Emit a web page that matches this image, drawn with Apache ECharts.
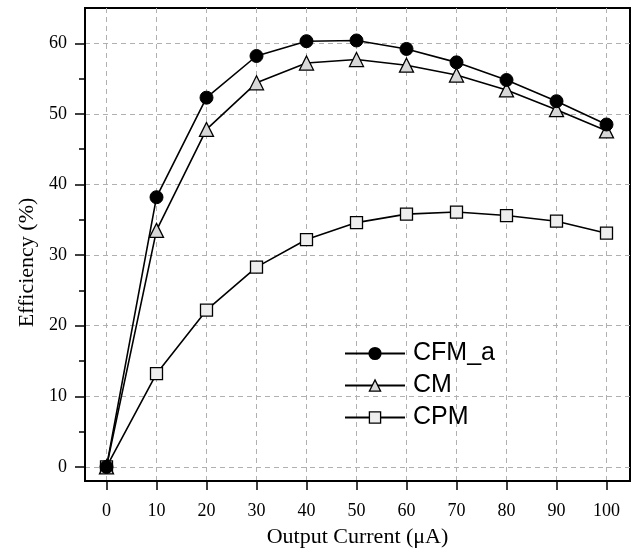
<!DOCTYPE html>
<html><head><meta charset="utf-8">
<script src="https://cdn.jsdelivr.net/npm/echarts@6/dist/echarts.min.js"></script>
<style>html,body{margin:0;padding:0;background:#fff}#c{width:634px;height:553px}</style>
</head><body><div id="c"></div>
<script>
const xValues = [0,10,20,30,40,50,60,70,80,90,100];
const cfmA = [0,38.2,52.3,58.2,60.3,60.4,59.2,57.3,54.8,51.8,48.5];
const cm   = [0,33.5,47.8,54.4,57.2,57.7,56.9,55.5,53.4,50.6,47.6];
const cpm  = [0,13.2,22.2,28.3,32.2,34.6,35.8,36.1,35.6,34.8,33.1];
const xTicks = [0,10,20,30,40,50,60,70,80,90,100];
const yTicks = [0,10,20,30,40,50,60];
const yMinorTicks = [5,15,25,35,45,55];

const serif = '"Liberation Serif","Times New Roman",serif';
const pair = a => xValues.map((x,i)=>[x,a[i]]);
const chart = echarts.init(document.getElementById('c'), null, {renderer:'canvas'});
chart.setOption({
  animation:false,
  backgroundColor:'#fff',
  grid:{left:85,top:8,right:4,bottom:69,show:true,borderColor:'#000',borderWidth:2,backgroundColor:'transparent'},
  legend:{
    orient:'vertical', left:339, top:336, itemWidth:60, itemHeight:14, itemGap:7,
    textStyle:{fontFamily:'"Liberation Sans",Arial,sans-serif',fontSize:25,color:'#000',padding:[0,0,0,3]},
    data:[
      {name:'CFM_a',itemStyle:{color:'#000'}},
      {name:'CM',itemStyle:{color:'#d8d8d8',borderColor:'#000',borderWidth:1.3}},
      {name:'CPM',itemStyle:{color:'#eeeeee',borderColor:'#000',borderWidth:1.3}}
    ]
  },
  xAxis:[{
    type:'value', min:-4.3, max:104.7,
    name:'Output Current (\u03bcA)', nameLocation:'middle', nameGap:45,
    nameTextStyle:{fontFamily:serif,fontSize:22,color:'#000'},
    axisLine:{show:true,onZero:false,lineStyle:{color:'#000',width:2}},
    axisTick:{show:true,inside:false,length:9,lineStyle:{color:'#000',width:1.5},customValues:xTicks},
    axisLabel:{customValues:xTicks,fontFamily:serif,fontSize:18,color:'#000',margin:21},
    splitLine:{show:true,lineStyle:{color:'#b0b0b0',type:[5,4],width:1}}
  }],
  yAxis:[{
    type:'value', min:-2, max:65,
    name:'Efficiency (%)', nameLocation:'middle', nameGap:47, nameRotate:90,
    nameTextStyle:{fontFamily:serif,fontSize:22,color:'#000',padding:[0,36,0,0]},
    axisLine:{show:true,onZero:false,lineStyle:{color:'#000',width:2}},
    axisTick:{show:true,inside:false,length:10,lineStyle:{color:'#000',width:1.5},customValues:yTicks},
    axisLabel:{customValues:yTicks,fontFamily:serif,fontSize:18,color:'#000',margin:18},
    splitLine:{show:true,lineStyle:{color:'#b0b0b0',type:[5,4],width:1}}
  },{
    type:'value', min:-2, max:65, position:'left',
    axisLine:{show:false,onZero:false},
    axisTick:{show:true,inside:false,length:6,lineStyle:{color:'#000',width:1.5},customValues:yMinorTicks},
    axisLabel:{show:false},
    splitLine:{show:false}
  }],
  series:[
    {name:'CFM_a',type:'line',data:pair(cfmA),symbol:'circle',symbolSize:13,z:4,
     lineStyle:{color:'#000',width:1.6},itemStyle:{color:'#000',borderColor:'#000',borderWidth:1}},
    {name:'CM',type:'line',data:pair(cm),symbol:'triangle',symbolSize:14,z:3,
     lineStyle:{color:'#000',width:1.6},itemStyle:{color:'#d8d8d8',borderColor:'#000',borderWidth:1.3}},
    {name:'CPM',type:'line',data:pair(cpm),symbol:'rect',symbolSize:12,z:2,
     lineStyle:{color:'#000',width:1.6},itemStyle:{color:'#eeeeee',borderColor:'#000',borderWidth:1.3}}
  ]
});
</script></body></html>
